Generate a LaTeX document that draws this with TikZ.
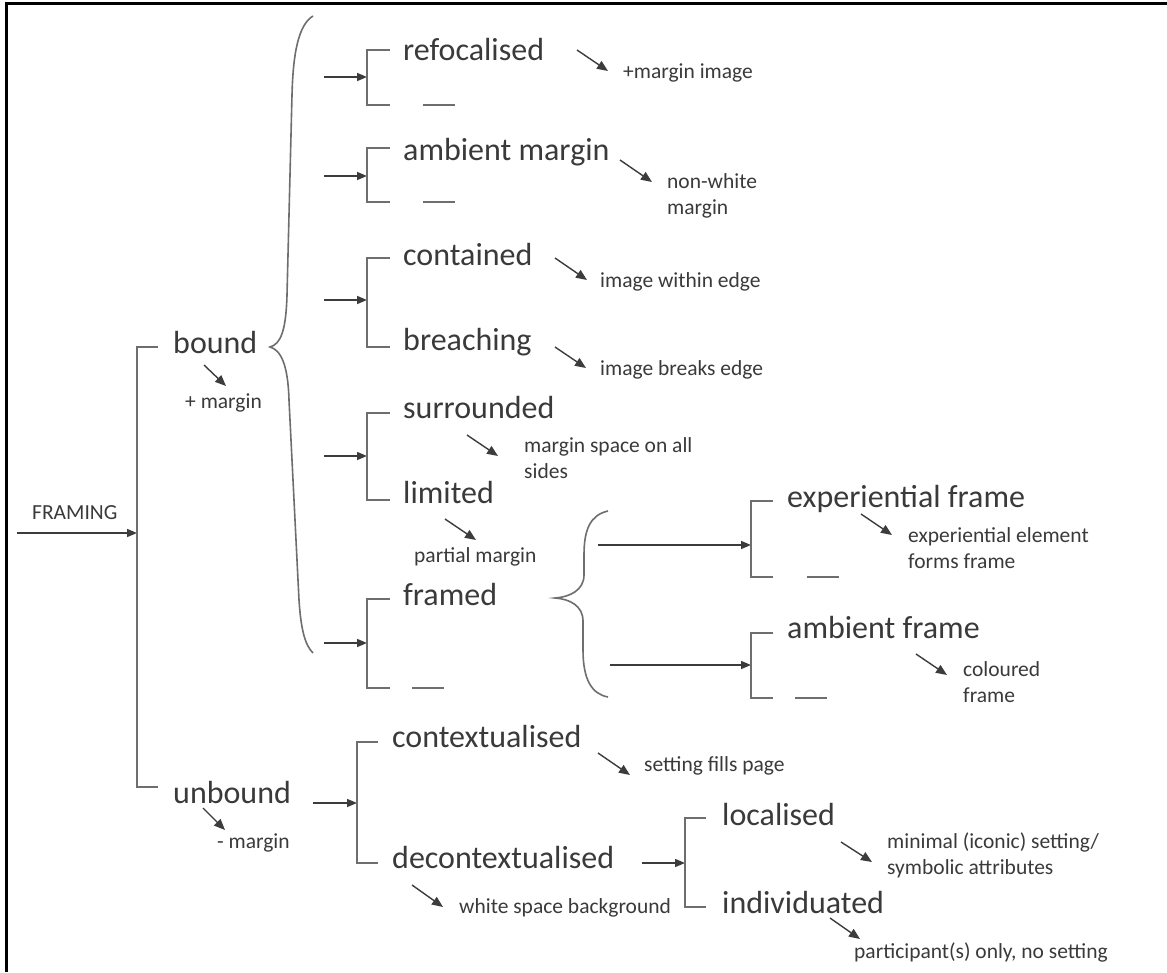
\documentclass[tikz,border=0pt]{standalone}
\usepackage{fontspec}
\setmainfont{Carlito}
\usetikzlibrary{arrows.meta}
\definecolor{txt}{HTML}{3A3A3A}
\definecolor{ln}{HTML}{6E6E6E}
\definecolor{arc}{HTML}{3C3C3C}
\tikzset{
  big/.style={font=\fontsize{32}{38}\selectfont, text=txt, inner sep=0pt, anchor=base west},
  small/.style={font=\fontsize{21.5}{26}\selectfont, text=txt, inner sep=0pt, anchor=base west, align=left},
  brk/.style={draw=ln, line width=1.8pt},
  arr/.style={draw=arc, line width=1.5pt, -{Triangle[length=10pt,width=8pt]}},
  darr/.style={draw=arc, line width=1.4pt, -{Triangle[length=11pt,width=9pt]}},
}
\begin{document}
\begin{tikzpicture}[x=1pt,y=-1pt]
\useasboundingbox (0,0) rectangle (1167,972);
\fill[white] (0,0) rectangle (1167,972);
% partial border
\draw[line width=3pt, black] (6,972) -- (6,3) -- (1167,3);

% ---------- root ----------
\node[small] (framing) at (32,519) {FRAMING};
\coordinate (fin) at (17,533);
\coordinate (rootbr) at (137,533);
\draw[arr] (fin) -- (rootbr);
\coordinate (rtop) at (137,347);
\coordinate (rbot) at (137,787);
\draw[brk] (158,347) -- (rtop) -- (rbot) -- (158,787);

\node[big] (bound) at (173,353) {bound};
\node[small] (boundm) at (185,408) {+ margin};
\coordinate (ba1) at (204,365); \coordinate (ba2) at (226,386);
\draw[darr] (ba1) -- (ba2);

\node[big] (unbound) at (173,803) {unbound};
\node[small] (unboundm) at (217,848) {- margin};
\coordinate (ua1) at (203,808); \coordinate (ua2) at (225,830);
\draw[darr] (ua1) -- (ua2);

% ---------- big brace ----------
\draw[brk, line width=1.6pt] (313,16) .. controls (298,25) and (293,55) .. (292,95)
  -- (287,295) .. controls (286,330) and (281,344) .. (270,347)
  .. controls (281,350) and (288,365) .. (289,400)
  -- (299,600) .. controls (301,630) and (305,645) .. (313,653);

% ---------- group 1 ----------
\coordinate (g1s) at (324,77); \coordinate (g1b) at (367,77);
\draw[arr] (g1s) -- (g1b);
\draw[brk] (390,50) -- (367,50) -- (367,105) -- (390,105);
\draw[brk] (423,105) -- (455,105);
\node[big] (refoc) at (403,60) {refocalised};
\coordinate (r1) at (577,50); \coordinate (r2) at (608,71);
\draw[darr] (r1) -- (r2);
\node[small] (refocd) at (623,78) {+margin image};

% ---------- group 2 ----------
\coordinate (g2s) at (324,176); \coordinate (g2b) at (367,176);
\draw[arr] (g2s) -- (g2b);
\draw[brk] (390,148) -- (367,148) -- (367,202) -- (390,202);
\draw[brk] (423,202) -- (455,202);
\node[big] (ambm) at (403,160) {ambient margin};
\coordinate (am1) at (620,160); \coordinate (am2) at (652,182);
\draw[darr] (am1) -- (am2);
\node[small] (ambmd) at (667,214) {non-white\\margin};

% ---------- group 3 ----------
\coordinate (g3s) at (324,300); \coordinate (g3b) at (367,300);
\draw[arr] (g3s) -- (g3b);
\draw[brk] (390,258) -- (367,258) -- (367,347) -- (390,347);
\node[big] (cont) at (403,265) {contained};
\coordinate (c1) at (555,258); \coordinate (c2) at (587,280);
\draw[darr] (c1) -- (c2);
\node[small] (contd) at (600,287) {image within edge};
\node[big] (breach) at (403,350) {breaching};
\coordinate (b1) at (555,347); \coordinate (b2) at (586,368);
\draw[darr] (b1) -- (b2);
\node[small] (breachd) at (600,375) {image breaks edge};

% ---------- group 4 ----------
\coordinate (g4s) at (324,456); \coordinate (g4b) at (367,456);
\draw[arr] (g4s) -- (g4b);
\draw[brk] (390,413) -- (367,413) -- (367,500) -- (390,500);
\node[big] (surr) at (403,418) {surrounded};
\coordinate (s1) at (467,435); \coordinate (s2) at (498,456);
\draw[darr] (s1) -- (s2);
\node[small] (surrd) at (524,478) {margin space on all\\sides};
\node[big] (limit) at (403,503) {limited};
\coordinate (l1) at (445,519); \coordinate (l2) at (476,540);
\draw[darr] (l1) -- (l2);
\node[small] (limitd) at (414,562) {partial margin};

% ---------- group 5 ----------
\coordinate (g5s) at (324,643); \coordinate (g5b) at (367,643);
\draw[arr] (g5s) -- (g5b);
\draw[brk] (390,599) -- (367,599) -- (367,688) -- (390,688);
\draw[brk] (412,688) -- (444,688);
\node[big] (framed) at (403,605) {framed};

% framed brace
\draw[brk, line width=1.6pt] (608,511) .. controls (590,515) and (584,530) .. (584,555)
  -- (584,575) .. controls (584,590) and (570,597) .. (555,598)
  .. controls (570,599) and (583,606) .. (583,621)
  -- (583,650) .. controls (583,680) and (592,694) .. (608,697);
\coordinate (f1s) at (598,545); \coordinate (f1b) at (751,545);
\draw[arr] (f1s) -- (f1b);
\coordinate (f2s) at (610,665); \coordinate (f2b) at (751,665);
\draw[arr] (f2s) -- (f2b);

% experiential frame
\draw[brk] (773,501) -- (751,501) -- (751,577) -- (773,577);
\draw[brk] (807,577) -- (839,577);
\node[big] (expf) at (787,507) {experiential frame};
\coordinate (e1) at (861,514); \coordinate (e2) at (892,535);
\draw[darr] (e1) -- (e2);
\node[small] (expfd) at (908,568) {experiential element\\forms frame};

% ambient frame
\draw[brk] (773,633) -- (751,633) -- (751,698) -- (773,698);
\draw[brk] (795,698) -- (827,698);
\node[big] (ambf) at (787,638) {ambient frame};
\coordinate (af1) at (916,654); \coordinate (af2) at (947,675);
\draw[darr] (af1) -- (af2);
\node[small] (ambfd) at (963,702) {coloured\\frame};

% ---------- unbound branch ----------
\coordinate (u1s) at (313,803); \coordinate (u1b) at (357,803);
\draw[arr] (u1s) -- (u1b);
\draw[brk] (378,742) -- (357,742) -- (357,863) -- (378,863);
\node[big] (ctx) at (392,747) {contextualised};
\coordinate (cx1) at (598,753); \coordinate (cx2) at (630,775);
\draw[darr] (cx1) -- (cx2);
\node[small] (ctxd) at (644,771) {setting fills page};

\node[big] (dctx) at (392,868) {decontextualised};
\coordinate (dx1) at (412,885); \coordinate (dx2) at (443,907);
\draw[darr] (dx1) -- (dx2);
\node[small] (dctxd) at (459,913) {white space background};
\coordinate (d1s) at (642,863); \coordinate (d1b) at (685,863);
\draw[arr] (d1s) -- (d1b);
\draw[brk] (706,818) -- (685,818) -- (685,907) -- (706,907);

\node[big] (loc) at (722,825) {localised};
\coordinate (lo1) at (841,842); \coordinate (lo2) at (872,862);
\draw[darr] (lo1) -- (lo2);
\node[small] (locd) at (887,874) {minimal (iconic) setting/\\symbolic attributes};

\node[big] (indiv) at (722,913) {individuated};
\coordinate (in1) at (830,918); \coordinate (in2) at (860,939);
\draw[darr] (in1) -- (in2);
\node[small] (indivd) at (854,958) {participant(s) only, no setting};
\end{tikzpicture}
\end{document}
